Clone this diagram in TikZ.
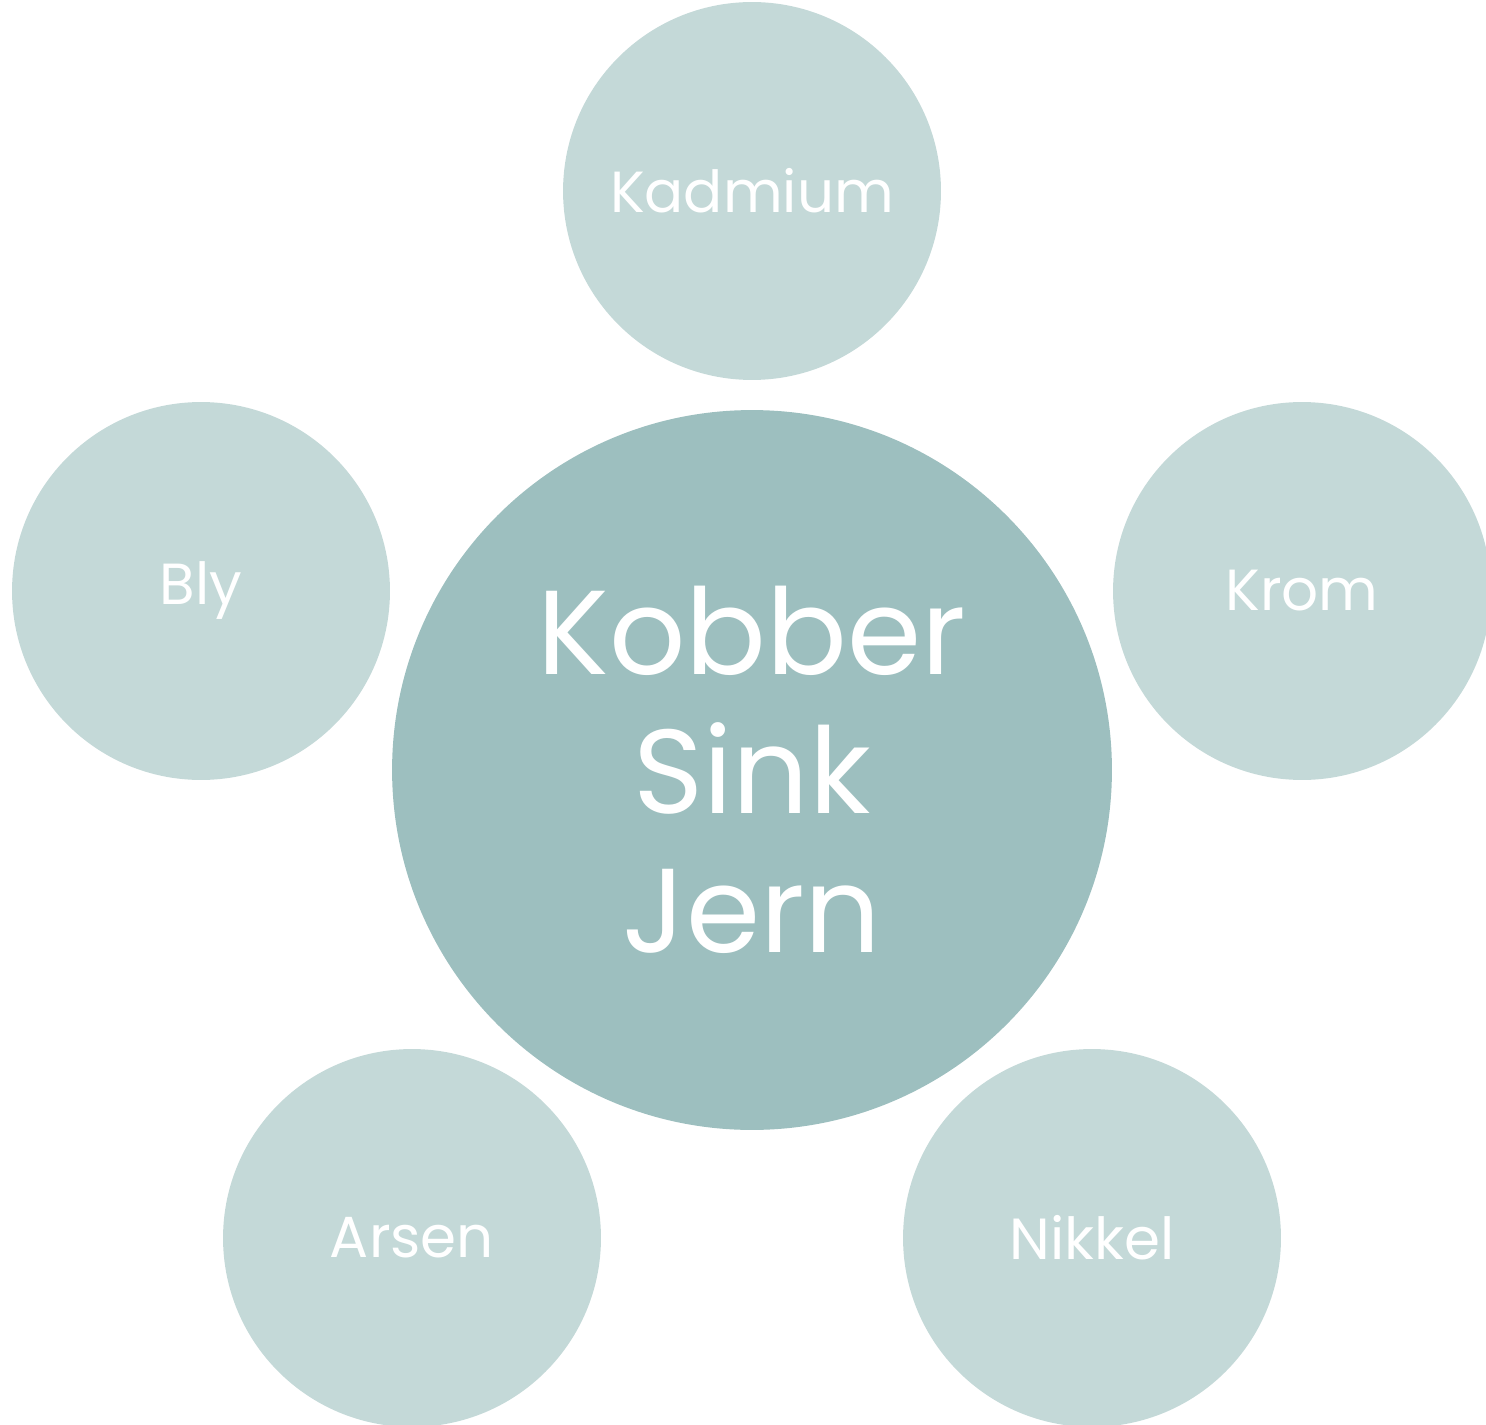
\documentclass[tikz,border=0pt]{standalone}
\usepackage{fontspec}
\setmainfont{Poppins}
\usetikzlibrary{positioning}
\definecolor{hubfill}{HTML}{9DBFBF}
\definecolor{metalfill}{HTML}{C4D9D8}

\begin{document}
\begin{tikzpicture}[x=0.02cm, y=-0.02cm,
    metal/.style={circle, fill=metalfill, minimum size=7.56cm, inner sep=0pt,
        text=white, font=\fontsize{33}{40}\selectfont},
    hub/.style={circle, fill=hubfill, minimum size=14.4cm, inner sep=0pt,
        text=white, align=center, font=\fontsize{68}{79}\selectfont}]
    \useasboundingbox (0,0) rectangle (1486,1425);

    % Centre
    \node[hub] (core) at (752,770) {Kobber\\Sink\\Jern};

    % Metals around
    \node[metal] (cd) at (752,191) {Kadmium};
    \node[metal] (pb) at (201,591) {Bly};
    \node[metal] (cr) at (1302,591) {Krom};
    \node[metal] (as) at (412,1238) {Arsen};
    \node[metal] (ni) at (1092,1238) {Nikkel};
\end{tikzpicture}
\end{document}
